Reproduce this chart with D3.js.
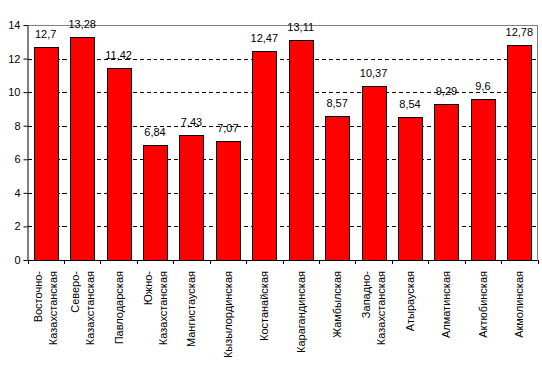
<!DOCTYPE html>
<html><head><meta charset="utf-8">
<script src="https://cdn.jsdelivr.net/npm/d3@7"></script>
<style>body{margin:0;background:#fff}svg{display:block}text{font-family:Arial,"Liberation Sans",sans-serif;font-size:11px;fill:#000}</style>
</head><body>
<script>
const categories = ["Восточно-|Казахстанская","Северо-|Казахстанская","Павлодарская","Южно-|Казахстанская","Мангистауская","Кызылординская","Костанайская","Карагандинская","Жамбылская","Западно-|Казахстанская","Атырауская","Алматинская","Актюбинская","Акмолинская"];
const values = [12.7,13.28,11.42,6.84,7.43,7.07,12.47,13.11,8.57,10.37,8.54,9.29,9.6,12.78];
const yTicks = [0,2,4,6,8,10,12,14];

const W=542,H=372, L=27.5, R=537.5, T=25, B=260;
const svg=d3.select("body").append("svg").attr("width",W).attr("height",H);
const x=d3.scaleBand().domain(categories).range([L,R]).paddingInner(0.34).paddingOuter(0.17);
const y=d3.scaleLinear().domain([0,14]).range([B,T]);

// gridlines
svg.append("g").selectAll("line").data(yTicks.filter(t=>t>0&&t<14)).join("line")
 .attr("x1",L).attr("x2",R).attr("y1",d=>Math.round(y(d))+0.5).attr("y2",d=>Math.round(y(d))+0.5)
 .attr("stroke","#000").attr("stroke-dasharray","4,3").attr("shape-rendering","crispEdges");
// top & right border
svg.append("path").attr("d",`M${L},${T+0.5}H${R}V${B}`).attr("fill","none").attr("stroke","#808080").attr("shape-rendering","crispEdges");

// bars
svg.append("g").selectAll("rect").data(values).join("rect")
 .attr("x",(d,i)=>Math.round(x(categories[i]))+0.5).attr("width",Math.round(x.bandwidth()))
 .attr("y",d=>Math.round(y(d))+0.5).attr("height",d=>B-Math.round(y(d)))
 .attr("fill","#ff0000").attr("stroke","#000").attr("shape-rendering","crispEdges");

// value labels
svg.append("g").selectAll("text").data(values).join("text")
 .attr("x",(d,i)=>x(categories[i])+x.bandwidth()/2).attr("y",d=>y(d)-9)
 .attr("text-anchor","middle").text(d=>String(d).replace(".",","));

// y axis
const ya=svg.append("g").attr("transform",`translate(${L},0)`)
 .call(d3.axisLeft(y).tickValues(yTicks).tickSize(4).tickPadding(3).tickFormat(d3.format("d")));
ya.select(".domain").attr("stroke","#000").attr("d",`M0.5,${T}V${B}`);
ya.selectAll("text").style("font-size","11px").style("font-family","Arial, 'Liberation Sans', sans-serif");

// x axis
const bandStep=(R-L)/categories.length;
const xg=svg.append("g");
xg.append("line").attr("x1",L).attr("x2",R).attr("y1",B+0.5).attr("y2",B+0.5).attr("stroke","#000");
xg.selectAll("line.t").data(d3.range(categories.length+1)).join("line").attr("class","t")
 .attr("x1",i=>Math.round(L+i*bandStep)+0.5).attr("x2",i=>Math.round(L+i*bandStep)+0.5)
 .attr("y1",B).attr("y2",B+4).attr("stroke","#000");
categories.forEach((c,i)=>{
  const lines=c.split("|");
  const cx=x(c)+x.bandwidth()/2;
  const n=lines.length;
  lines.forEach((ln,j)=>{
    const off=(j-(n-1)/2)*15;
    xg.append("text").attr("transform",`translate(${cx+off+4},${B+11}) rotate(-90)`)
      .attr("text-anchor","end").text(ln);
  });
});
</script>
</body></html>
